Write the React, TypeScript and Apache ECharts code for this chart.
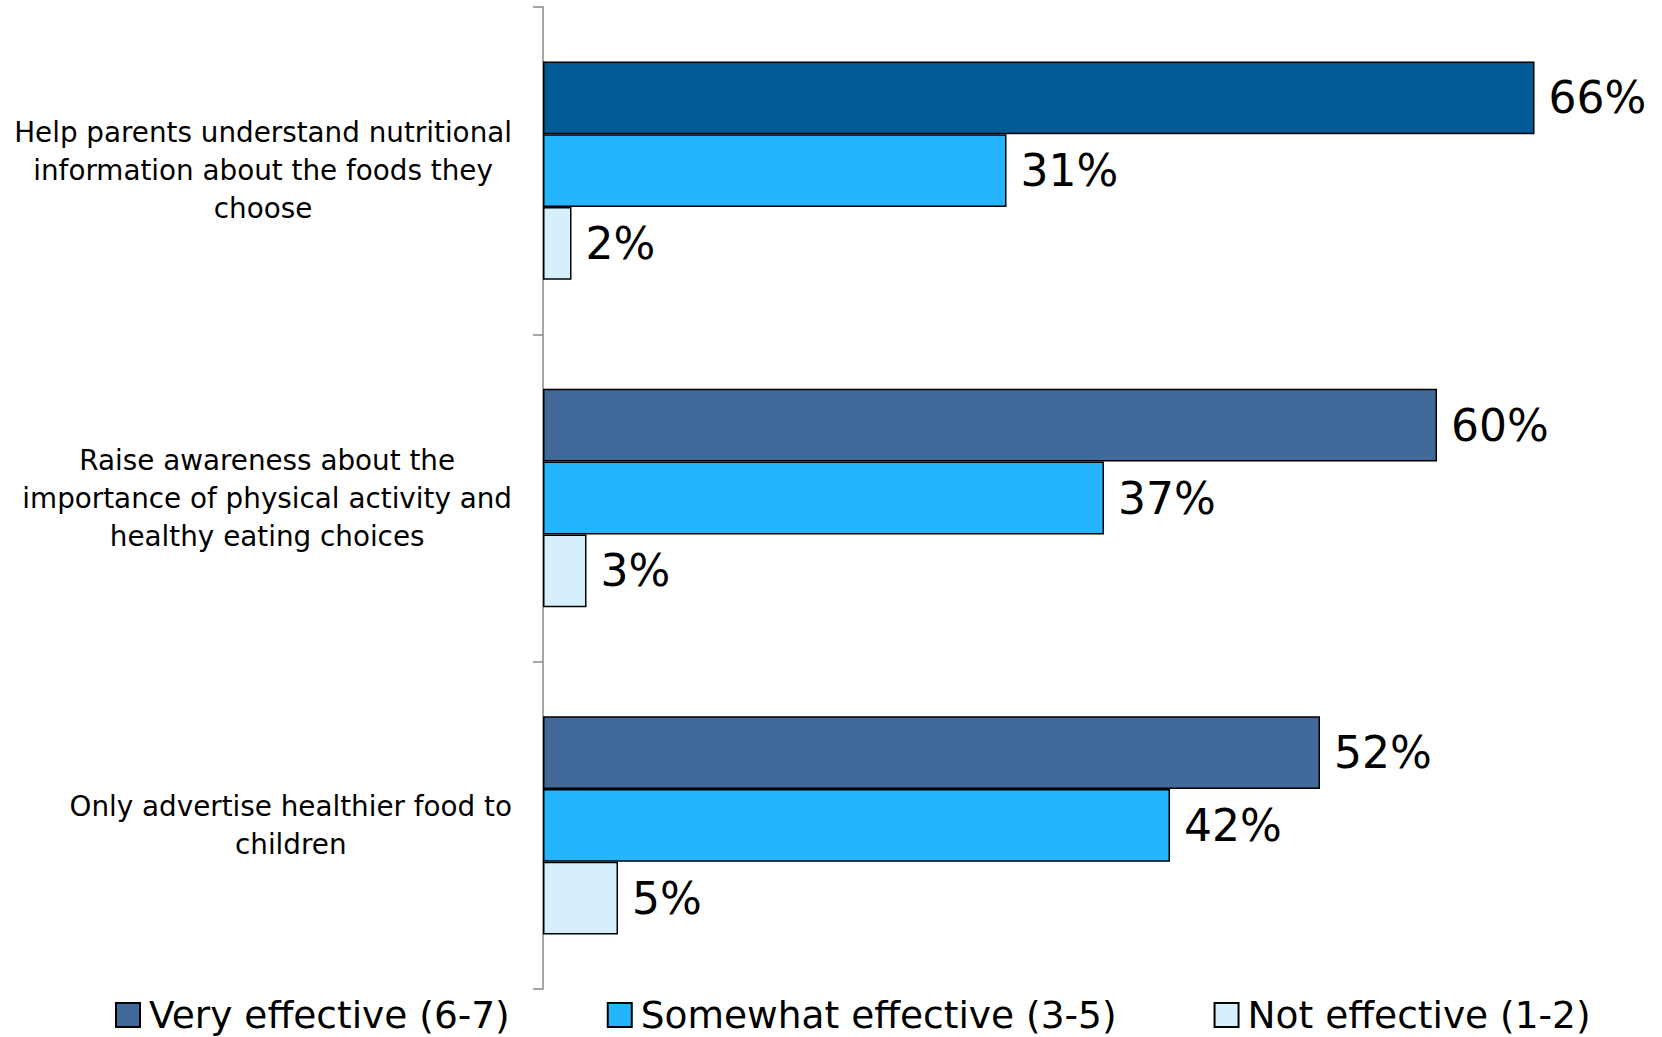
import React, { useEffect, useRef } from "react";
import * as echarts from "echarts";

const categories = [
  "Help parents understand nutritional\ninformation about the foods they\nchoose",
  "Raise awareness about the\nimportance of physical activity and\nhealthy eating choices",
  "Only advertise healthier food to\nchildren",
];
const seriesNames = ["Very effective (6-7)", "Somewhat effective (3-5)", "Not effective (1-2)"];
const veryEffective = [66.1, 59.6, 51.8];
const somewhatEffective = [30.9, 37.4, 41.8];
const notEffective = [1.9, 2.9, 5.0];

const FONT = "'DejaVu Sans', Verdana, sans-serif";

export default function App() {
  const ref = useRef<HTMLDivElement>(null);
  useEffect(() => {
    if (!ref.current) return;
    const chart = echarts.init(ref.current, null, { renderer: "svg" });
    const label = {
      show: true,
      position: "right",
      distance: 14,
      fontSize: 44,
      fontFamily: FONT,
      color: "#000",
      padding: [4, 0, 0, 0],
      formatter: (p: any) => Math.round(p.value) + "%",
    };
    const border = { borderColor: "#000", borderWidth: 1.5 };
    chart.setOption({
      animation: false,
      textStyle: { fontFamily: FONT },
      grid: { left: 543, right: 69, top: 7, bottom: 48, containLabel: false },
      xAxis: {
        type: "value",
        min: 0,
        max: 70,
        show: false,
      },
      yAxis: {
        type: "category",
        data: categories,
        inverse: true,
        axisLine: { show: true, lineStyle: { color: "#888", width: 1.5 } },
        axisTick: { show: true, length: 10, inside: false, lineStyle: { color: "#888", width: 1.5 } },
        axisLabel: {
          interval: 0,
          margin: 31,
          align: "right",
          formatter: (v: string) =>
            v
              .split("\n")
              .map((l) => "{c|" + l + "}")
              .join("\n"),
          rich: {
            c: { align: "center", fontSize: 27.8, lineHeight: 38, fontFamily: FONT, color: "#000" },
          },
        },
        splitLine: { show: false },
      },
      legend: {
        left: 115,
        top: 996,
        padding: 0,
        itemWidth: 24,
        itemHeight: 24,
        itemGap: 97,
        icon: "rect",
        textStyle: { fontSize: 37.5, lineHeight: 38, fontFamily: FONT, color: "#000", padding: [0, 0, 0, 4] },
        data: seriesNames,
      },
      series: [
        {
          name: seriesNames[0],
          type: "bar",
          barGap: "0%",
          barCategoryGap: "33.3%",
          itemStyle: { color: "#41699A", ...border },
          label,
          data: veryEffective.map((v, i) =>
            i === 0 ? { value: v, itemStyle: { color: "#005A96" } } : v
          ),
        },
        {
          name: seriesNames[1],
          type: "bar",
          barGap: "0%",
          barCategoryGap: "33.3%",
          itemStyle: { color: "#25B5FE", ...border },
          label,
          data: somewhatEffective,
        },
        {
          name: seriesNames[2],
          type: "bar",
          barGap: "0%",
          barCategoryGap: "33.3%",
          itemStyle: { color: "#D5EFFC", ...border },
          label,
          data: notEffective,
        },
      ],
    });
    return () => chart.dispose();
  }, []);
  return (
    <div
      ref={ref}
      style={{ position: "fixed", left: 0, top: 0, width: 1662, height: 1037, background: "#fff" }}
    />
  );
}
